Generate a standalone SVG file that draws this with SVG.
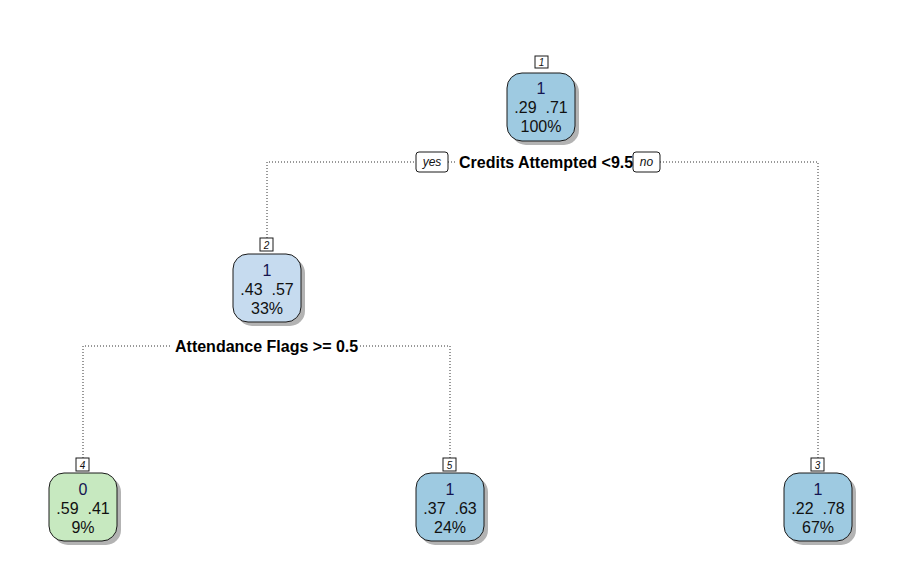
<svg xmlns="http://www.w3.org/2000/svg" width="900" height="580" viewBox="0 0 900 580">
<style>
.shadow{fill:#b3b3b3;}
.box{stroke:#1a1a1a;stroke-width:1;}
.t{font-family:"Liberation Sans",Arial,sans-serif;font-size:16px;fill:#111;text-anchor:middle;white-space:pre;}
.c{fill:#141450;}
.num{fill:#fff;stroke:#1a1a1a;stroke-width:1;}
.nt{font-family:"Liberation Sans",Arial,sans-serif;font-size:10px;font-style:italic;fill:#111;text-anchor:middle;}
.split{font-family:"Liberation Sans",Arial,sans-serif;font-size:16px;font-weight:bold;fill:#000;}
.yn{font-family:"Liberation Sans",Arial,sans-serif;font-size:12px;font-style:italic;fill:#111;text-anchor:middle;}
.dot{fill:none;stroke:#333;stroke-width:1;stroke-dasharray:1,2;}
</style>
<rect width="900" height="580" fill="#fff"/>
<g id="connectors">
<path class="dot" d="M267,238 V162 H416"/>
<path class="dot" d="M448,162 H456"/>
<path class="dot" d="M660,162 H818 V458"/>
<path class="dot" d="M83,458 V346 H170"/>
<path class="dot" d="M360,346 H450 V458"/>
<rect class="num" x="416" y="152" width="32" height="20" rx="3"/>
<text class="yn" x="432" y="166">yes</text>
<text class="split" x="459" y="168">Credits Attempted &lt;9.5</text>
<rect class="num" x="633" y="152" width="27" height="20" rx="3"/>
<text class="yn" x="646.5" y="166">no</text>
<text class="split" x="175" y="352">Attendance Flags &gt;= 0.5</text>
</g>
<g id="node1">
<rect class="shadow" x="511" y="77" width="68" height="68" rx="15"/>
<rect class="box" x="507" y="73" width="68" height="68" rx="15" fill="#9ecae1"/>
<rect class="num" x="535" y="56" width="13" height="12"/>
<text class="nt" x="541.5" y="66">1</text>
<text class="t c" x="541" y="94">1</text>
<text class="t" x="541" y="113" xml:space="preserve">.29  .71</text>
<text class="t" x="541" y="132">100%</text>
</g>
<g id="node2">
<rect class="shadow" x="237" y="258" width="68" height="68" rx="15"/>
<rect class="box" x="233" y="254" width="68" height="68" rx="15" fill="#c6dbef"/>
<rect class="num" x="260" y="238" width="13" height="13"/>
<text class="nt" x="266.5" y="248.5">2</text>
<text class="t c" x="267" y="276">1</text>
<text class="t" x="267" y="295" xml:space="preserve">.43  .57</text>
<text class="t" x="267" y="314">33%</text>
</g>
<g id="node4">
<rect class="shadow" x="53" y="477" width="68" height="68" rx="15"/>
<rect class="box" x="49" y="473" width="68" height="68" rx="15" fill="#c7e9c0"/>
<rect class="num" x="76" y="458" width="13" height="13"/>
<text class="nt" x="82.5" y="468.5">4</text>
<text class="t c" x="83" y="495">0</text>
<text class="t" x="83" y="514" xml:space="preserve">.59  .41</text>
<text class="t" x="83" y="533">9%</text>
</g>
<g id="node5">
<rect class="shadow" x="420" y="477" width="68" height="68" rx="15"/>
<rect class="box" x="416" y="473" width="68" height="68" rx="15" fill="#9ecae1"/>
<rect class="num" x="443" y="458" width="13" height="13"/>
<text class="nt" x="449.5" y="468.5">5</text>
<text class="t c" x="450" y="495">1</text>
<text class="t" x="450" y="514" xml:space="preserve">.37  .63</text>
<text class="t" x="450" y="533">24%</text>
</g>
<g id="node3">
<rect class="shadow" x="788" y="477" width="68" height="68" rx="15"/>
<rect class="box" x="784" y="473" width="68" height="68" rx="15" fill="#9ecae1"/>
<rect class="num" x="811" y="458" width="13" height="13"/>
<text class="nt" x="817.5" y="468.5">3</text>
<text class="t c" x="818" y="495">1</text>
<text class="t" x="818" y="514" xml:space="preserve">.22  .78</text>
<text class="t" x="818" y="533">67%</text>
</g>
</svg>
